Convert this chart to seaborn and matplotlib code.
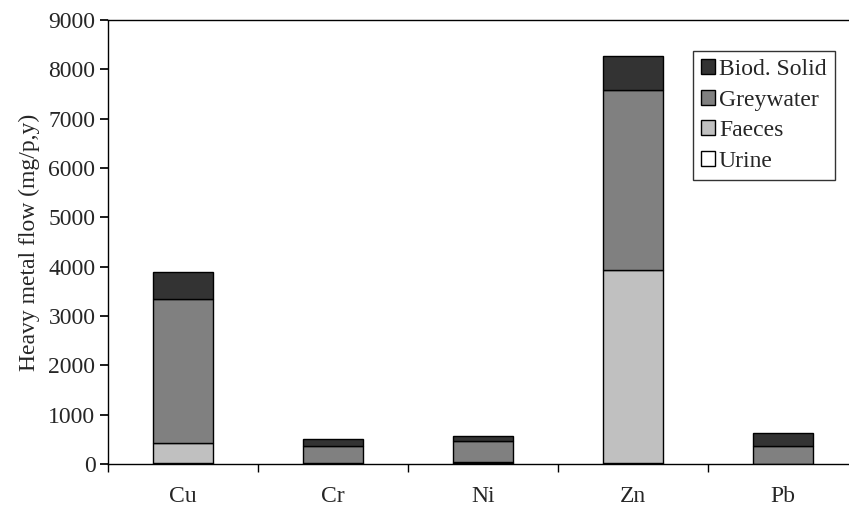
import matplotlib
matplotlib.use("Agg")
import matplotlib.pyplot as plt
import seaborn as sns
import pandas as pd
import numpy as np

metals = ["Cu", "Cr", "Ni", "Zn", "Pb"]
urine = [30, 10, 30, 15, 5]
faeces = [400, 10, 10, 3925, 5]
greywater = [2920, 355, 435, 3650, 345]
biod = [540, 130, 85, 680, 270]
series = ["Urine", "Faeces", "Greywater", "Biod. Solid"]
colors = ["#ffffff", "#c0c0c0", "#808080", "#333333"]

sns.set_theme(style="white")
plt.rcParams['font.family'] = ['Liberation Serif', 'DejaVu Serif']

fig = plt.figure(figsize=(8.49, 5.08), dpi=100)
ax = fig.add_axes([108/849, 1-464/508, 750/849, 444/508])

df = pd.DataFrame({"metal": metals, "Urine": urine, "Faeces": faeces,
                   "Greywater": greywater, "Biod. Solid": biod})
bottom = np.zeros(len(metals))
for s, c in zip(series, colors):
    sns.barplot(data=df, x="metal", y=s, ax=ax, color=c, bottom=bottom,
                width=0.4, edgecolor="black", linewidth=1.0, label=s,
                saturation=1, err_kws={'linewidth': 0})
    bottom = bottom + df[s].values

ax.set_ylim(0, 9000)
ax.set_xlim(-0.5, 4.5)
ax.set_yticks(range(0, 9001, 1000))
ax.set_xticks([-0.5, 0.5, 1.5, 2.5, 3.5], minor=True)
ax.set_xticks(range(5))
ax.set_xticklabels(metals)
ax.tick_params(axis='x', which='major', length=0, pad=16, labelsize=17)
ax.tick_params(axis='x', which='minor', length=6, direction='out', bottom=True, color='black')
ax.tick_params(axis='y', length=6, direction='out', left=True, labelsize=17, color='black', pad=3)
ax.set_xlabel("")
ax.set_ylabel("Heavy metal flow (mg/p,y)", fontsize=17, labelpad=6)
for sp in ["left", "bottom", "top"]:
    ax.spines[sp].set_color("black")
    ax.spines[sp].set_linewidth(1)
ax.spines["right"].set_visible(False)

h, l = ax.get_legend_handles_labels()
leg = ax.legend(h[::-1], l[::-1], loc="upper left", bbox_to_anchor=((693-108)/750, 1-(51-20)/444),
                fontsize=17, frameon=True, fancybox=False, edgecolor="black",
                handlelength=0.6, handleheight=0.6, handletextpad=0.15, borderpad=0.35,
                labelspacing=0.4, borderaxespad=0)
leg.get_frame().set_linewidth(1)
fig.savefig("out.png", dpi=100)
